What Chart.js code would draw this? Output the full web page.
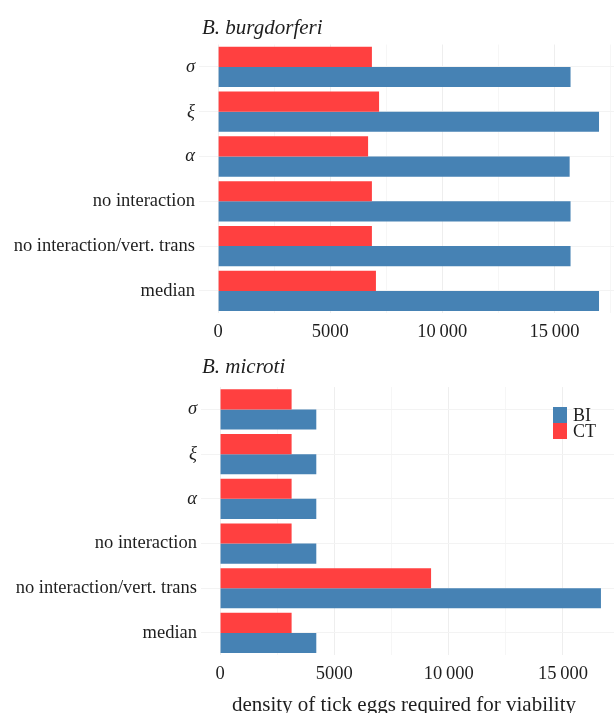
<!DOCTYPE html>
<html>
<head>
<meta charset="utf-8">
<script src="https://cdn.jsdelivr.net/npm/chart.js@4.4.1/dist/chart.umd.min.js"></script>
<style>
  body { margin: 0; background: #fff; font-family: "Liberation Serif", "DejaVu Serif", serif; color: #1e1e1e; overflow: hidden; }
  .painel { position: absolute; left: 0; width: 614px; }
  #painel_burgdorferi { top: 0; height: 345px; }
  #painel_microti { top: 345px; height: 368px; }
  .titulo { position: absolute; left: 202px; font-style: italic; font-size: 21px; line-height: 1; white-space: nowrap; }
  #titulo_burgdorferi { top: 17px; }
  #titulo_microti { top: 11px; }
  .legenda { position: absolute; left: 553px; top: 62px; font-size: 18px; }
  .legenda div { display: flex; align-items: center; height: 16px; }
  .legenda span.caixa { display: inline-block; width: 14px; height: 16px; margin-right: 6px; }
  #titulo_eixo { position: absolute; left: 0; width: 808px; text-align: center; top: 349px; font-size: 21px; line-height: 1; white-space: nowrap; }
</style>
</head>
<body>
<div class="painel" id="painel_burgdorferi">
  <canvas id="grafico_burgdorferi"></canvas>
  <div class="titulo" id="titulo_burgdorferi">B. burgdorferi</div>
</div>
<div class="painel" id="painel_microti">
  <canvas id="grafico_microti"></canvas>
  <div class="titulo" id="titulo_microti">B. microti</div>
  <div class="legenda">
    <div><span class="caixa" style="background:#4682B4"></span>BI</div>
    <div><span class="caixa" style="background:#FF4040"></span>CT</div>
  </div>
  <div id="titulo_eixo">density of tick eggs required for viability</div>
</div>
<script>
// Categorias (de cima para baixo) e valores de cada cenário
const categorias = ['σ', 'ξ', 'α', 'no interaction', 'no interaction/vert. trans', 'median'];
const letrasGregas = ['σ', 'ξ', 'α'];

const burgdorferiBI = [15720, 16990, 15680, 15720, 15720, 16990];
const burgdorferiCT = [6860, 7180, 6690, 6860, 6860, 7040];

const microtiBI = [4210, 4210, 4210, 4210, 16660, 4210];
const microtiCT = [3130, 3130, 3130, 3130, 9230, 3130];

// Marcas do eixo x: só os múltiplos de 5000 recebem rótulo
const marcasEixo = [0, 2500, 5000, 7500, 10000, 12500, 15000, 17500];

const corBI = '#4682B4';
const corCT = '#FF4040';
const fonte = '"Liberation Serif", "DejaVu Serif", serif';
const tamanhoFonte = 18.5;

function formatarNumero(v) {
    if (v < 10000) return String(v);
    return String(v).replace(/\B(?=(\d{3})+(?!\d))/g, '\u2009');
}

function criarGrafico(id, valoresCT, valoresBI, limites, medidas) {
    const ctx = document.getElementById(id).getContext('2d');
    return new Chart(ctx, {
        type: 'bar',
        data: {
            labels: categorias,
            datasets: [
                { label: 'CT', data: valoresCT, backgroundColor: corCT, borderWidth: 0 },
                { label: 'BI', data: valoresBI, backgroundColor: corBI, borderWidth: 0 }
            ]
        },
        options: {
            indexAxis: 'y',
            responsive: true,
            maintainAspectRatio: false,
            animation: false,
            layout: { padding: { top: medidas.topo, left: 0, right: 0, bottom: 0 } },
            datasets: { bar: { categoryPercentage: 0.9, barPercentage: 1.0 } },
            plugins: {
                legend: { display: false },
                tooltip: { enabled: false }
            },
            scales: {
                x: {
                    type: 'linear',
                    min: limites.min,
                    max: limites.max,
                    afterBuildTicks: (escala) => {
                        escala.ticks = marcasEixo.map(v => ({ value: v }));
                    },
                    afterFit: (escala) => {
                        // o painel vai até a borda direita, sem folga para os rótulos
                        escala.height = medidas.alturaEixo;
                        escala.paddingLeft = 0;
                        escala.paddingRight = 0;
                    },
                    border: { display: false },
                    grid: {
                        drawTicks: false,
                        color: (c) => (c.tick && c.tick.value % 5000 === 0) ? '#EEEEEE' : '#F6F6F6',
                        lineWidth: 1
                    },
                    ticks: {
                        padding: 8,
                        color: '#1e1e1e',
                        font: { family: fonte, size: tamanhoFonte },
                        callback: (v) => v % 5000 === 0 ? formatarNumero(v) : ''
                    }
                },
                y: {
                    type: 'category',
                    offset: true,
                    afterFit: (escala) => {
                        escala.width = medidas.larguraEixo;
                        escala.paddingTop = 0;
                        escala.paddingBottom = 0;
                    },
                    border: { display: false },
                    grid: { offset: false, drawTicks: false, color: '#F3F3F3' },
                    ticks: {
                        padding: 4,
                        color: '#1e1e1e',
                        font: (c) => ({
                            family: fonte,
                            size: tamanhoFonte,
                            style: (c.tick && letrasGregas.includes(c.tick.label)) ? 'italic' : 'normal'
                        })
                    }
                }
            }
        }
    });
}

criarGrafico('grafico_burgdorferi', burgdorferiCT, burgdorferiBI,
    { min: -852, max: 17658 },
    { topo: 44.5, alturaEixo: 31.7, larguraEixo: 199 });

criarGrafico('grafico_microti', microtiCT, microtiBI,
    { min: -833, max: 17231 },
    { topo: 42.1, alturaEixo: 57.7, larguraEixo: 201 });
</script>
</body>
</html>
